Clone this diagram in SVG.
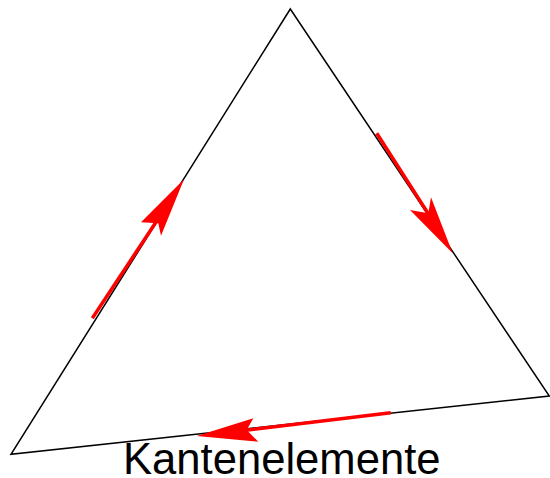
<svg xmlns="http://www.w3.org/2000/svg" width="550" height="478" viewBox="0 0 550 478">
<style>
.edge{fill:none;stroke:#000;stroke-width:1.5;stroke-linejoin:miter}
.red{fill:none;stroke:#ff0000;stroke-width:3.5;stroke-linecap:butt}
.head{fill:#ff0000;stroke:none}
.label{font-family:"Liberation Sans",Arial,sans-serif;font-size:43.6px;fill:#000}
</style>
<rect width="550" height="478" fill="#fff"/>
<g id="triangle">
<polygon class="edge" points="290.3,9 549.3,396 11,454.3"/>
</g>
<g id="connectors">
<line class="red" x1="92.3" y1="318.3" x2="162" y2="213"/>
<polygon class="head" points="184,179.3 161,235.7 158.3,223.3 141,222.3"/>
<line class="red" x1="376.7" y1="133.3" x2="431" y2="218"/>
<polygon class="head" points="452.7,253.3 410,210 428.3,213.3 431,197.3"/>
<line class="red" x1="390.7" y1="412.7" x2="240" y2="431"/>
<polygon class="head" points="196.7,436 253.3,418.3 246.7,430 258.3,441.7"/>
</g>
<g id="label">
<text class="label" x="123" y="474">Kantenelemente</text>
</g>
</svg>
